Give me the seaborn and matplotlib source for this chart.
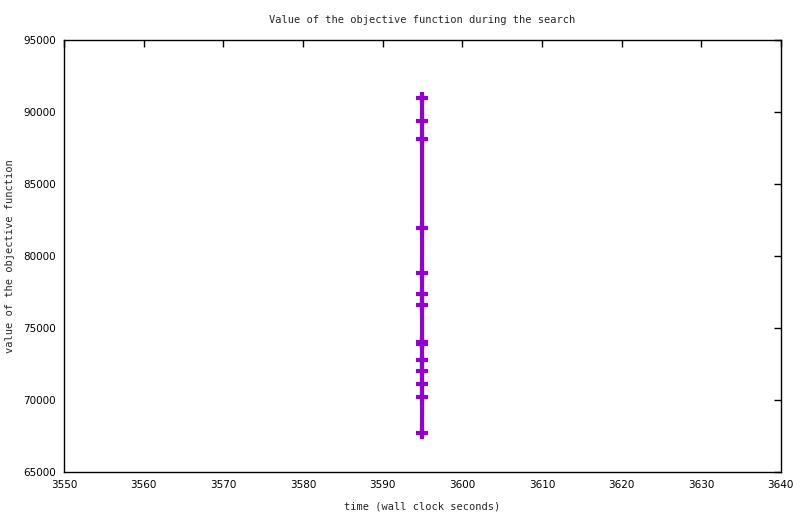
import numpy as np, pandas as pd
from matplotlib import pyplot as plt
import seaborn as sns

# Objective values (all at the same wall clock time)
time_s = [3595] * 14
objective = [90990, 89400, 88150, 81960, 78840, 77380, 76620,
             74050, 73890, 72800, 72040, 71130, 70230, 67730]

x_ticks = list(range(3550, 3641, 10))
y_ticks = list(range(65000, 95001, 5000))

df = pd.DataFrame({"time": time_s, "objective": objective})

sns.set_style("white")
plt.rcParams["font.family"] = ["DejaVu Sans"]

fig = plt.figure(figsize=(8, 5.14), dpi=100)
ax = fig.add_axes([0.08, 0.0817, 0.896, 0.8405])

sns.lineplot(
    x="time",
    y="objective",
    data=df,
    estimator=None,
    sort=False,
    color="#9400d3",
    linewidth=3,
    marker="+",
    markersize=8,
    markeredgewidth=3,
    markeredgecolor="#9400d3",
    ax=ax,
)

ax.set_xlim(3550, 3640)
ax.set_ylim(65000, 95000)
ax.set_xticks(x_ticks)
ax.set_yticks(y_ticks)
ax.tick_params(direction="in", length=5, width=1, top=True, right=True,
               labelsize=7.5, colors="black", pad=6)
for s in ax.spines.values():
    s.set_color("black")
    s.set_linewidth(1)

mono = {"family": "DejaVu Sans Mono", "size": 7.5}
ax.set_title("Value of the objective function during the search", fontdict=mono, pad=12)
ax.set_xlabel("time (wall clock seconds)", fontdict=mono, labelpad=8)
ax.set_ylabel("value of the objective function", fontdict=mono)
ax.yaxis.set_label_coords(-0.068, 0.5)

plt.savefig("out.png")
